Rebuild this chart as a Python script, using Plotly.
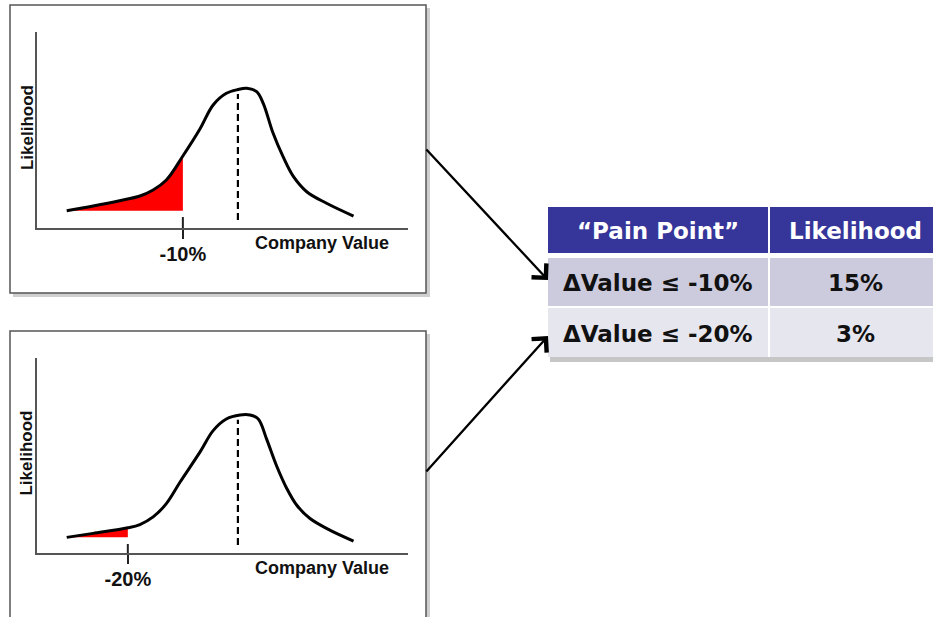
import plotly.graph_objects as go

# ---------------- data ----------------
# Top panel: company value change (%) vs relative likelihood
top_value_pct = [-31.1, -26.3, -21.5, -17.8, -15.4, -13.0, -10.0, -6.9, -4.5, -2.1, 0.0, 1.6, 3.4, 4.6, 6.4, 8.2, 10.1, 12.5, 16.1, 21.0]
top_likelihood = [12.4, 15.8, 19.6, 23.0, 27.3, 34.5, 51.8, 71.2, 88.5, 96.9, 99.6, 100.5, 98.1, 89.7, 68.1, 51.3, 36.9, 26.1, 17.8, 8.6]

# Bottom panel
bottom_value_pct = [-31.1, -26.3, -20.0, -17.8, -15.4, -13.0, -10.5, -6.9, -4.5, -2.1, 0.4, 2.2, 3.7, 5.2, 7.0, 8.9, 10.7, 13.1, 16.7, 21.0]
bottom_likelihood = [11.3, 14.2, 18.2, 20.6, 26.1, 35.7, 51.3, 72.9, 88.5, 96.9, 99.8, 99.8, 96.9, 82.5, 63.3, 46.5, 34.5, 24.9, 16.5, 8.6]

pain_points = [-10, -20]
pain_labels = ["-10%", "-20%"]
mean_value = 0
mean_line_likelihood = [5.8, 96.4]
tick_above_axis = [7.9, 6.5]

table_header = ["“Pain Point”", "Likelihood"]
table_conditions = ["ΔValue ≤ -10%", "ΔValue ≤ -20%"]
table_likelihoods = ["15%", "3%"]

x_label = "Company Value"
y_label = "Likelihood"

# ---------------- layout helpers ----------------
W, H = 933, 617
def px(x):
    return x / W
def py(y):
    return 1 - y / H

FONT = "Arial, Liberation Sans, sans-serif"
TFONT = "DejaVu Sans, Arial, sans-serif"
X_RANGE = [-36.5, 30.9]
Y_RANGE = [0, 141]

fig = go.Figure()

panels = [
    dict(x=top_value_pct, y=top_likelihood, xa="x", ya="y", dom_y=(228, 32)),
    dict(x=bottom_value_pct, y=bottom_likelihood, xa="x2", ya="y2", dom_y=(553, 358)),
]

for i, p in enumerate(panels):
    xs, ys = p["x"], p["y"]
    pp = pain_points[i]
    seg_x = [v for v in xs if v <= pp]
    seg_y = [ys[k] for k, v in enumerate(xs) if v <= pp]
    # baseline for red area
    fig.add_trace(go.Scatter(x=[seg_x[0], seg_x[-1]], y=[seg_y[0], seg_y[0]], mode="lines",
                             line=dict(width=0, color="red"), xaxis=p["xa"], yaxis=p["ya"],
                             hoverinfo="skip"))
    fig.add_trace(go.Scatter(x=seg_x, y=seg_y, mode="lines", fill="tonexty", fillcolor="#FF0000",
                             line=dict(width=0, color="red", shape="spline"),
                             xaxis=p["xa"], yaxis=p["ya"], hoverinfo="skip"))
    # distribution curve
    fig.add_trace(go.Scatter(x=xs, y=ys, mode="lines",
                             line=dict(width=3, color="black", shape="spline"),
                             xaxis=p["xa"], yaxis=p["ya"], hoverinfo="skip"))
    # dashed mean line
    fig.add_trace(go.Scatter(x=[mean_value, mean_value], y=mean_line_likelihood, mode="lines",
                             line=dict(width=2.2, color="black", dash="7px,4px"),
                             xaxis=p["xa"], yaxis=p["ya"], hoverinfo="skip"))
    # upper part of the pain-point tick
    fig.add_trace(go.Scatter(x=[pp, pp], y=[0, tick_above_axis[i]], mode="lines",
                             line=dict(width=2, color="#222"),
                             xaxis=p["xa"], yaxis=p["ya"], hoverinfo="skip"))

axis_common = dict(showgrid=False, zeroline=False, fixedrange=True)
for i, p in enumerate(panels):
    sfx = "" if i == 0 else "2"
    fig.update_layout(**{
        "xaxis" + sfx: dict(domain=[px(37), px(408)], range=X_RANGE, anchor="y" + sfx,
                            showline=True, linecolor="#555", linewidth=1.5,
                            tickmode="array", tickvals=[pain_points[i]], ticktext=[pain_labels[i]],
                            ticks="outside", ticklen=9, tickwidth=2, tickcolor="#222",
                            ticklabelstandoff=-2,
                            tickfont=dict(family=FONT, size=20, color="#111", weight="bold"),
                            **axis_common),
        "yaxis" + sfx: dict(domain=[py(p["dom_y"][0]), py(p["dom_y"][1])], range=Y_RANGE,
                            anchor="x" + sfx, showline=True, linecolor="#555", linewidth=1.5,
                            showticklabels=False, ticks="", **axis_common),
    })
    fig.add_annotation(text=y_label, textangle=-90, xref="x" + sfx + " domain", yref="y" + sfx + " domain",
                       x=0, y=0.51, xshift=-10, showarrow=False, xanchor="center", yanchor="middle",
                       font=dict(family=FONT, size=17, color="#111", weight="bold"))
    fig.add_annotation(text=x_label, xref="x" + sfx + " domain", yref="y" + sfx + " domain",
                       x=0.768, y=0, yshift=-15, showarrow=False, xanchor="center", yanchor="middle",
                       font=dict(family=FONT, size=18, color="#111", weight="bold"))

# panel frames with shadow
for (x0, y0, x1, y1) in [(10, 5, 426, 293), (10, 331, 426, 640)]:
    fig.add_shape(type="rect", xref="paper", yref="paper", layer="below",
                  x0=px(x0 + 3), y0=py(y1 + 4), x1=px(x1 + 4), y1=py(y0 + 3),
                  fillcolor="#cfcfcf", line=dict(width=0))
    fig.add_shape(type="rect", xref="paper", yref="paper", layer="below",
                  x0=px(x0), y0=py(y1), x1=px(x1), y1=py(y0),
                  fillcolor="white", line=dict(color="#555", width=1.5))

# ---------------- table (cells as shapes, text as annotations) ----------------
col_edges = [(548, 768), (770, 940)]
header_band = (207, 253)
row_bands = [(258, 306), (308, 357)]
row_fills = ["#CCCBDD", "#E6E6EE"]
header_fill = "#35359A"

# shadow
fig.add_shape(type="rect", xref="paper", yref="paper", layer="below",
              x0=px(550), y0=py(362), x1=px(940), y1=py(215),
              fillcolor="#c6c6c6", line=dict(width=0))
fig.add_shape(type="rect", xref="paper", yref="paper", layer="below",
              x0=px(548), y0=py(357), x1=px(940), y1=py(207),
              fillcolor="white", line=dict(width=0))

for c, (cx0, cx1) in enumerate(col_edges):
    fig.add_shape(type="rect", xref="paper", yref="paper", layer="below",
                  x0=px(cx0), x1=px(cx1), y0=py(header_band[1]), y1=py(header_band[0]),
                  fillcolor=header_fill, line=dict(width=0))
    fig.add_annotation(text=table_header[c], xref="paper", yref="paper",
                       x=px((cx0 + cx1) / 2), y=py((header_band[0] + header_band[1]) / 2 + 1),
                       showarrow=False, xanchor="center", yanchor="middle",
                       font=dict(family=TFONT, size=23, color="white", weight="bold"))
    col_vals = table_conditions if c == 0 else table_likelihoods
    for r, (ry0, ry1) in enumerate(row_bands):
        fig.add_shape(type="rect", xref="paper", yref="paper", layer="below",
                      x0=px(cx0), x1=px(cx1), y0=py(ry1), y1=py(ry0),
                      fillcolor=row_fills[r], line=dict(width=0))
        fig.add_annotation(text=col_vals[r], xref="paper", yref="paper",
                           x=px((cx0 + cx1) / 2), y=py((ry0 + ry1) / 2 + 1),
                           showarrow=False, xanchor="center", yanchor="middle",
                           font=dict(family=TFONT, size=23, color="#111", weight="bold"))

# arrows
for tip, tail in [((548, 280), (425, 148)), ((548, 336), (425, 473))]:
    fig.add_annotation(x=px(tip[0]), y=py(tip[1]), xref="paper", yref="paper",
                       ax=tail[0] - tip[0], ay=tail[1] - tip[1], text="", showarrow=True,
                       arrowhead=4, arrowsize=1.7, arrowwidth=2.3, arrowcolor="black", standoff=0)

fig.update_layout(width=W, height=H, margin=dict(l=0, r=0, t=0, b=0), showlegend=False,
                  paper_bgcolor="white", plot_bgcolor="rgba(0,0,0,0)")

fig.write_html("out.html")
